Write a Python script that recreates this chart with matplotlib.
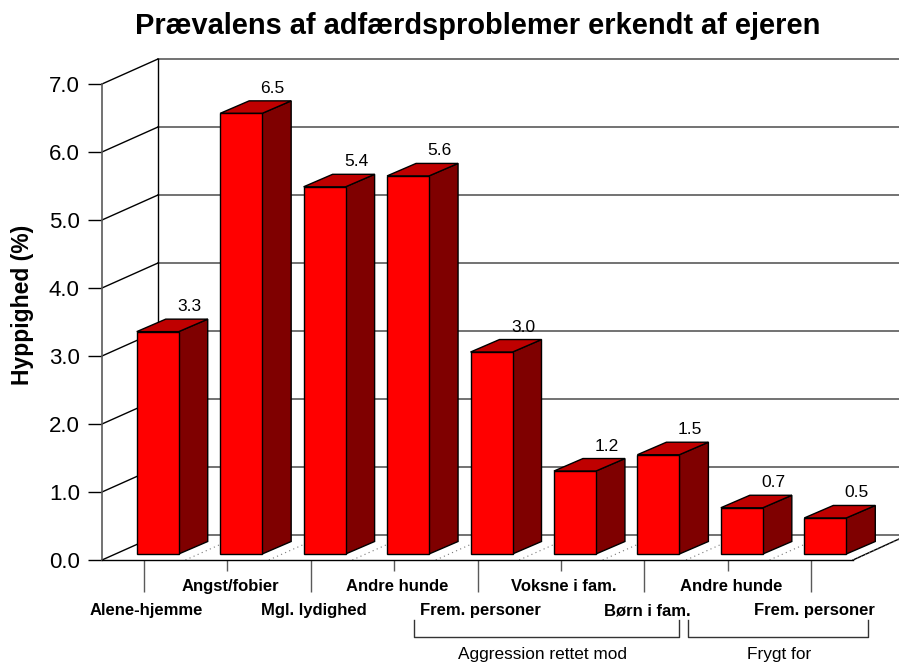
import matplotlib
matplotlib.use('Agg')
import matplotlib.pyplot as plt
from matplotlib.patches import Polygon
from matplotlib.lines import Line2D
from matplotlib.transforms import ScaledTranslation

plt.rcParams['font.family'] = ['Liberation Sans', 'DejaVu Sans']

# Data
kategorier = ['Alene-hjemme', 'Angst/fobier', 'Mgl. lydighed', 'Andre hunde', 'Frem. personer',
              'Voksne i fam.', 'Børn i fam.', 'Andre hunde', 'Frem. personer']
hyppighed = [3.27, 6.48, 5.4, 5.56, 2.97, 1.22, 1.46, 0.68, 0.53]
yticks = [0, 1, 2, 3, 4, 5, 6, 7]
titel = 'Prævalens af adfærdsproblemer erkendt af ejeren'
ylabel = 'Hyppighed (%)'
grupper = ['Aggression rettet mod', 'Frygt for']

W = 899
H = 664
fig = plt.figure(figsize=(W / 100, H / 100), dpi=100, facecolor='white')
ax = fig.add_axes([102 / W, (H - 560) / H, 751 / W, 476 / H])
ax.set_xlim(0, 9)
ax.set_ylim(0, 7)
ax.patch.set_visible(False)

# pixels per data unit
sx = 751 / 9
sy = 476 / 7
# depth of the 3D box
dx = 56 / sx
dy = 25 / sy
xmax = (W - 102) / sx
grey = '#5a5a5a'

# walls and grid
for v in yticks:
    ax.plot([dx, xmax], [v + dy, v + dy], color=grey, lw=1.2, clip_on=False, zorder=1)
    ax.plot([0, dx], [v, v + dy], color='black', lw=1, clip_on=False, zorder=1)
ax.plot([dx, dx], [dy, 7 + dy], color='black', lw=1, clip_on=False, zorder=1)
ax.plot([9, 9 + 46 / sx], [0, 21 / sy], color='black', lw=1, clip_on=False, zorder=1)

# dotted floor lines
for i in range(1, 10):
    ax.plot([i, i + dx], [0, dy], color='#777777', lw=0.8, ls=(0, (1, 3)), clip_on=False, zorder=1)

# bars
bredde = 42 / sx
bx = 29 / sx
by = 12.5 / sy
base = 6 / sy
for i, v in enumerate(hyppighed):
    x0 = i + 0.5 + 14 / sx - bredde / 2
    x1 = x0 + bredde
    top = base + v
    ax.add_patch(Polygon([(x1, base), (x1 + bx, base + by), (x1 + bx, top + by), (x1, top)],
                         fc='#7f0000', ec='black', lw=1, clip_on=False, zorder=3))
    ax.add_patch(Polygon([(x0, top), (x1, top), (x1 + bx, top + by), (x0 + bx, top + by)],
                         fc='#bf0000', ec='black', lw=1, clip_on=False, zorder=3))
    ax.add_patch(Polygon([(x0, base), (x1, base), (x1, top), (x0, top)],
                         fc='#ff0000', ec='black', lw=1, clip_on=False, zorder=4))
    ax.text((x0 + x1) / 2 + 31.5 / sx, top + 25 / sy, '%.1f' % v, fontsize=12.5, ha='center', va='center',
            clip_on=False, zorder=5)

# axes
for s in ['top', 'right']:
    ax.spines[s].set_visible(False)
ax.spines['left'].set_color(grey)
ax.spines['left'].set_linewidth(1.2)
ax.spines['bottom'].set_linewidth(1)
ax.set_yticks(yticks)
ax.set_yticklabels(['%.1f' % v for v in yticks], fontsize=16)
ax.tick_params(axis='y', length=10, width=1, pad=6)

pos = [i + 0.5 for i in range(len(kategorier))]
ax.set_xticks(pos[0::2])
ax.set_xticklabels(kategorier[0::2], fontsize=12, fontweight='bold')
ax.set_xticks(pos[1::2], minor=True)
ax.set_xticklabels(kategorier[1::2], minor=True, fontsize=12, fontweight='bold')
ax.tick_params(axis='x', which='major', length=23, width=1, pad=8, color=grey)
ax.tick_params(axis='x', which='minor', length=8, width=1, pad=6, color=grey)
# labels sit a little right of their ticks
flyt = ScaledTranslation(3 / 100, 0, fig.dpi_scale_trans)
for lab in ax.get_xticklabels() + ax.get_xticklabels(minor=True):
    lab.set_transform(lab.get_transform() + flyt)

# text outside the plot
def fx(p):
    return p / W

def fy(p):
    return 1 - p / H

fig.text(fx(478), fy(26), titel, fontsize=20.9, fontweight='bold', ha='center', va='center')
fig.text(fx(23), fy(305), ylabel, fontsize=16.5, fontweight='bold', rotation=90, ha='center', va='center')

# brackets under the groups
for (a, b), navn, mid in zip([(414, 679), (688, 868)], grupper, [543, 779]):
    fig.add_artist(Line2D([fx(a), fx(a), fx(b), fx(b)], [fy(620), fy(637), fy(637), fy(620)],
                          color='#333333', lw=1))
    fig.text(fx(mid), fy(655), navn, fontsize=12.4, ha='center', va='center')

fig.savefig('out.png', dpi=100)
